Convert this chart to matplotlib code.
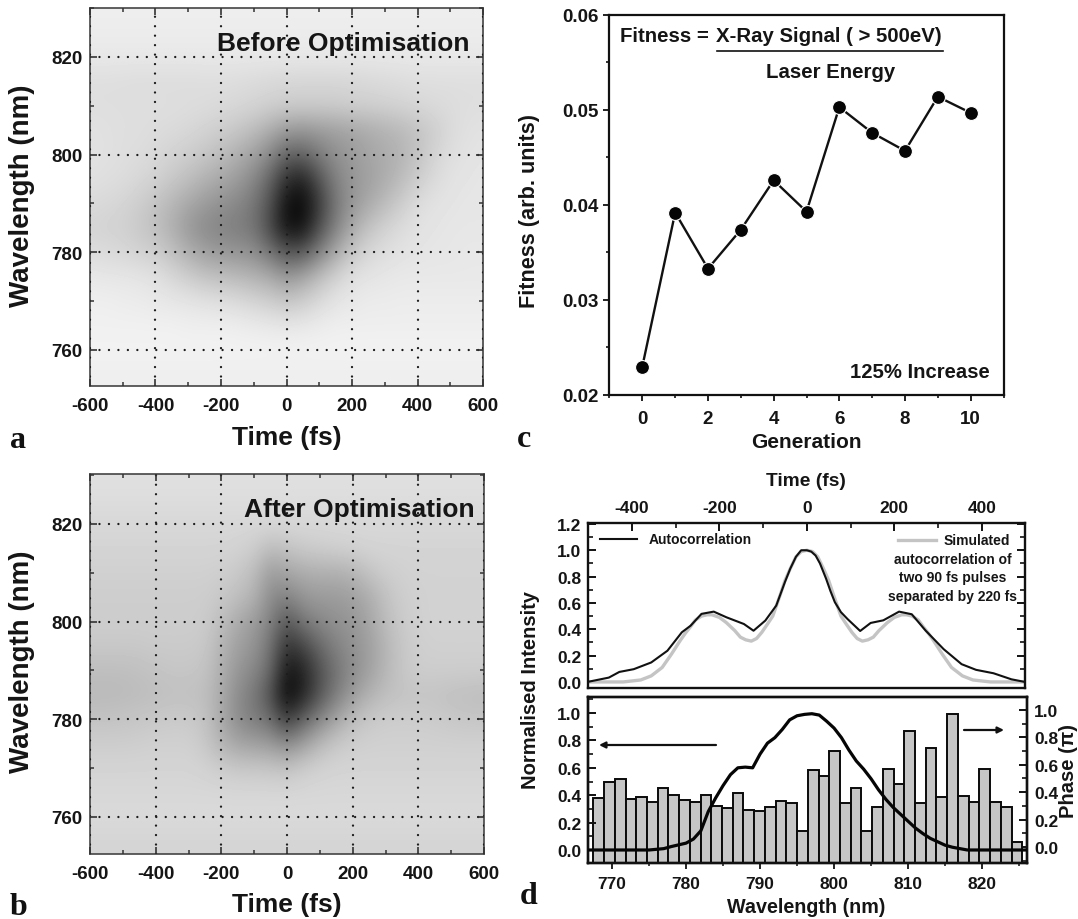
import numpy as np
import matplotlib
matplotlib.use("Agg")
import matplotlib.pyplot as plt
from matplotlib.lines import Line2D
from matplotlib.patches import FancyArrowPatch
from matplotlib.ticker import MultipleLocator, FixedLocator, FormatStrFormatter

plt.rcParams['font.family'] = ['Liberation Sans', 'DejaVu Sans']
plt.rcParams['font.weight'] = 'bold'
plt.rcParams['axes.unicode_minus'] = False

W, H = 1078, 920

# ---- panel a / b : grey levels, rows 830 ... 755 nm (5 nm), columns -600 ... 600 fs (50 fs)
before = [
 [238]*25,
 [236]*25,
 [232]*25,
 [222,222,221,220,220,220,220,221,221,220,218,216,214,213,213,213,214,216,218,220,222,222,222,222,222],
 [222,222,222,222,222,222,221,220,218,215,212,208,205,205,205,205,208,208,210,212,215,218,220,222,222],
 [225,224,222,222,220,218,215,210,205,198,188,172,155,150,155,160,165,172,178,185,195,205,218,224,226],
 [226,224,222,220,216,210,205,198,188,175,160,135,100,100,125,145,155,165,172,180,195,212,222,226,228],
 [224,222,220,215,210,200,190,178,168,155,135,100,45,35,85,130,150,160,172,188,205,218,226,228,230],
 [218,216,212,205,195,182,168,155,145,135,118,80,15,8,60,120,150,170,188,205,220,226,228,230,230],
 [212,210,208,200,190,175,152,138,130,125,115,72,15,18,80,130,170,195,210,220,226,228,230,230,230],
 [220,218,215,210,205,192,175,160,152,148,142,115,85,90,130,170,200,215,222,226,228,230,230,232,232],
 [232,230,230,228,225,215,205,195,190,185,178,170,150,165,190,210,224,228,230,232,232,232,232,232,232],
 [238,238,236,235,232,230,228,225,222,218,212,205,198,205,218,228,232,235,235,236,236,236,236,236,236],
 [240,240,240,240,240,240,238,238,238,236,234,232,230,232,235,238,238,238,238,238,238,238,238,238,238],
 [242]*25,
 [238]*25,
]
after = [
 [224]*25,
 [221]*25,
 [215]*25,
 [212,212,212,212,212,212,212,212,212,210,205,188,195,202,205,208,210,212,212,212,212,212,212,212,212],
 [208,208,208,208,208,208,208,208,206,200,188,155,165,172,175,175,180,195,205,208,210,210,210,210,210],
 [205,205,205,205,205,205,205,205,200,190,178,140,130,150,155,155,160,172,192,205,208,210,210,210,210],
 [205,205,205,205,205,205,205,203,190,170,155,130,85,120,135,145,150,165,188,202,208,210,210,210,210],
 [200,200,200,200,202,202,202,200,180,160,148,115,50,70,105,130,145,158,180,198,206,208,208,208,208],
 [190,190,190,192,195,198,198,195,175,150,135,105,20,35,80,115,140,160,182,198,205,205,205,205,205],
 [185,185,186,188,190,192,192,190,170,140,120,80,5,35,85,125,155,178,190,195,195,195,192,190,188],
 [195,195,196,198,200,202,202,195,170,140,125,110,60,100,135,165,190,200,205,205,205,203,200,198,198],
 [205,205,205,206,208,208,208,200,180,165,160,155,140,160,185,200,206,208,208,208,208,208,208,208,208],
 [212,212,212,212,212,212,212,210,205,200,200,198,195,205,210,212,212,212,212,212,212,212,212,212,212],
 [215]*25,
 [218]*25,
 [212]*25,
]

# ---- panel c
generation = [0, 1, 2, 3, 4, 5, 6, 7, 8, 9, 10]
fitness = [.0230, .0392, .0333, .0374, .0426, .0393, .0503, .0476, .0457, .0514, .0497]

# ---- panel d, top
ac_time = [-502,-453,-429,-396,-356,-319,-286,-266,-241,-213,-184,-144,-122,-95,-70,-60,-50,-38,-25,-13,0,10,20,30,44,54,64,78,93,122,146,175,211,240,272,313,354,387,427,468,499]
ac_val = [0,.033,.076,.097,.148,.237,.377,.427,.517,.534,.491,.44,.389,.466,.58,.67,.76,.86,.95,1.0,1.0,.99,.96,.90,.784,.69,.606,.53,.478,.387,.448,.468,.534,.514,.389,.249,.135,.092,.066,.02,0]
sim_time = [-500,-420,-380,-356,-331,-310,-290,-278,-266,-255,-241,-228,-217,-200,-184,-165,-152,-140,-127,-115,-103,-90,-78,-60,-50,-38,-25,-13,0,13,25,38,50,60,78,90,103,115,127,140,152,165,184,200,217,228,241,255,266,278,290,310,331,356,380,420,500]
sim_val = [0,0,.015,.046,.11,.21,.313,.37,.42,.47,.50,.51,.51,.49,.45,.39,.34,.32,.31,.33,.377,.44,.50,.67,.77,.86,.95,.99,1.0,.99,.95,.86,.77,.67,.50,.44,.377,.33,.31,.32,.34,.39,.45,.49,.51,.51,.50,.47,.42,.37,.313,.21,.11,.046,.015,0,0]

# ---- panel d, bottom
spec_wl = [767,775,777,778,780,781,782,783,784,785,786,787,788,789,790,791,792,793,794,795,796,797,798,799,800,801,802,803,804,805,806,807,808,809,810,811,812,813,814,815,816,817,818,826]
spec_val = [0,0,.01,.025,.05,.08,.14,.28,.38,.47,.55,.60,.605,.60,.70,.78,.82,.88,.95,.98,.99,.995,.985,.94,.89,.82,.73,.65,.59,.52,.44,.37,.31,.26,.21,.16,.12,.085,.06,.035,.02,.01,0,0]
phase_wl = np.linspace(768.2, 824.7, 40)
phase_val = [.356,.471,.495,.351,.363,.332,.434,.376,.344,.332,.376,.298,.283,.395,.273,.266,.290,.339,.322,.115,
             .559,.515,.702,.322,.434,.115,.290,.568,.463,.844,.322,.720,.363,.973,.371,.332,.571,.332,.293,.039]

TXT = '#151515'
fig = plt.figure(figsize=(W/100, H/100), dpi=100, facecolor='white')

def axpx(l, t, r, b):
    return fig.add_axes([l/W, 1-b/H, (r-l)/W, (b-t)/H])

def ftext(x, y, s, size, ha='center', va='center', rot=0, **kw):
    kw.setdefault('color', TXT)
    return fig.text(x/W, 1-y/H, s, fontsize=size, ha=ha, va=va, rotation=rot, **kw)

def fline(x0, y0, x1, y1, **kw):
    fig.add_artist(Line2D([x0/W, x1/W], [1-y0/H, 1-y1/H], transform=fig.transFigure, **kw))

def farrow(x0, y, x1, lw=1.6):
    fig.add_artist(FancyArrowPatch(
        (x0/W, 1-y/H), (x1/W, 1-y/H), transform=fig.transFigure,
        arrowstyle='-|>', mutation_scale=9, lw=lw, color='#111111', shrinkA=0, shrinkB=0))

def heat(rect, grid, ylim):
    ax = axpx(*rect)
    ax.imshow(np.array(grid, float), cmap='gray', vmin=0, vmax=255, aspect='auto',
              extent=(-625, 625, 752.5, 832.5), origin='upper', interpolation='bicubic')
    ax.set_xlim(-600, 600)
    ax.set_ylim(*ylim)
    ax.xaxis.set_major_locator(MultipleLocator(200))
    ax.xaxis.set_minor_locator(MultipleLocator(100))
    ax.yaxis.set_major_locator(MultipleLocator(20))
    ax.yaxis.set_minor_locator(MultipleLocator(10))
    ax.tick_params(which='both', direction='in', top=True, right=True, color='#333333')
    ax.tick_params(which='major', length=5, width=1.2, labelsize=13.5, labelcolor=TXT)
    ax.tick_params(which='minor', length=3, width=1.1)
    ax.tick_params(axis='x', which='major', pad=8)
    ax.tick_params(axis='y', which='major', pad=5.5)
    ax.grid(True, which='major', color='#1c1c1c', lw=1.7,
            linestyle=(0, (0.01, 4.0)), dash_capstyle='round')
    ax.set_axisbelow(False)
    for s in ax.spines.values():
        s.set_linewidth(1.2)
        s.set_color('#444444')
    return ax

# panel a
heat((90, 9, 483, 387), before, (752.6, 830))
ftext(343, 44, 'Before Optimisation', 19)
ftext(22, 196, 'Wavelength (nm)', 20, rot=90)
ftext(287, 438, 'Time (fs)', 19)
ftext(10, 448, 'a', 23, ha='left', va='baseline', family='Liberation Serif', color='#111111')

# panel b
heat((90, 475, 484, 855), after, (752.4, 830.2))
ftext(359, 510, 'After Optimisation', 19)
ftext(22, 662, 'Wavelength (nm)', 20, rot=90)
ftext(287, 905, 'Time (fs)', 19)
ftext(10, 915, 'b', 23, ha='left', va='baseline', family='Liberation Serif', color='#111111')

# panel c
axc = axpx(609.5, 16, 1003.5, 396)
axc.plot(generation, fitness, '-', color='#111111', lw=1.7, zorder=2)
axc.plot(generation, fitness, 'o', color='#050505', ms=10, mec='white', mew=0.8, zorder=3)
axc.set_xlim(-1, 11)
axc.set_ylim(0.02, 0.06)
axc.xaxis.set_major_locator(MultipleLocator(2))
axc.xaxis.set_minor_locator(MultipleLocator(1))
axc.yaxis.set_major_locator(MultipleLocator(0.01))
axc.yaxis.set_minor_locator(MultipleLocator(0.005))
axc.yaxis.set_major_formatter(FormatStrFormatter('%.2f'))
axc.tick_params(which='both', direction='out', color='#111111')
axc.tick_params(which='major', length=4.5, width=1.3, labelsize=13.5, labelcolor=TXT)
axc.tick_params(which='minor', length=2.5, width=1.2)
axc.tick_params(axis='x', which='major', pad=6)
axc.tick_params(axis='y', which='major', pad=3)
for s in axc.spines.values():
    s.set_linewidth(1.6)
    s.set_color('#111111')
ftext(620.5, 37, 'Fitness =', 14.7, ha='left')
ftext(716.5, 37, 'X-Ray Signal ( > 500eV)', 14.7, ha='left')
fline(716.5, 52, 943, 52, color='#111111', lw=1.2)
ftext(830.5, 72, 'Laser Energy', 14.7)
ftext(990, 372, '125% Increase', 14.6, ha='right')
ftext(530, 211, 'Fitness (arb. units)', 15.6, rot=90)
ftext(806, 443, 'Generation', 15)
ftext(517, 447, 'c', 23, ha='left', va='baseline', family='Liberation Serif', color='#111111')

# panel d top
axt = axpx(587.6, 524, 1025.4, 689)
axt.plot(sim_time, sim_val, color='#c4c4c4', lw=2.4, zorder=2)
axt.plot(ac_time, ac_val, color='#111111', lw=1.5, zorder=3)
axt.set_xlim(-501.6, 500)
axt.set_ylim(-0.046, 1.207)
axt.xaxis.set_major_locator(MultipleLocator(200))
axt.xaxis.set_minor_locator(MultipleLocator(100))
axt.yaxis.set_major_locator(MultipleLocator(0.2))
axt.yaxis.set_minor_locator(MultipleLocator(0.1))
axt.yaxis.set_major_formatter(FormatStrFormatter('%.1f'))
axt.tick_params(which='both', direction='in', top=True, right=True, bottom=False,
                labeltop=True, labelbottom=False, color='#111111')
axt.tick_params(which='major', length=6, width=1.4, labelsize=12.5, labelcolor=TXT)
axt.tick_params(which='minor', length=3.6, width=1.2)
axt.tick_params(axis='x', which='major', pad=6)
axt.tick_params(axis='y', which='major', pad=4.5)
for s in axt.spines.values():
    s.set_linewidth(1.7)
    s.set_color('#111111')
ftext(806, 481, 'Time (fs)', 13.8)
fline(600, 540, 637, 540, color='#111111', lw=1.5)
ftext(649, 540, 'Autocorrelation', 10, ha='left')
fline(898, 541, 936, 541, color='#c4c4c4', lw=2.4)
ftext(943.5, 541, 'Simulated', 10, ha='left')
ftext(953, 560, 'autocorrelation of', 10)
ftext(953, 578, 'two 90 fs pulses', 10)
ftext(953, 597, 'separated by 220 fs', 10)

# panel d bottom
axp = axpx(587.6, 698, 1026.5, 864)
axp.set_xlim(766.7, 826)
bar_floor = -0.117
axp.set_ylim(bar_floor, 1.095)
axp.bar(phase_wl, np.array(phase_val) - bar_floor, bottom=bar_floor, width=1.45,
        color='#c6c6c6', edgecolor='#0a0a0a', lw=1.4, zorder=2)
axp.yaxis.tick_right()
axp.yaxis.set_major_locator(FixedLocator([0, .2, .4, .6, .8, 1.0]))
axp.yaxis.set_minor_locator(FixedLocator([-.1, .1, .3, .5, .7, .9]))
axp.yaxis.set_major_formatter(FormatStrFormatter('%.1f'))
axp.xaxis.set_major_locator(MultipleLocator(10))
axp.xaxis.set_minor_locator(MultipleLocator(5))
axp.tick_params(axis='y', which='both', direction='in', color='#111111')
axp.tick_params(axis='y', which='major', length=6, width=1.4, labelsize=12.5, labelcolor=TXT, pad=5.5)
axp.tick_params(axis='y', which='minor', length=3.6, width=1.2)
axp.tick_params(axis='x', which='both', direction='out', color='#111111')
axp.tick_params(axis='x', which='major', length=4.5, width=1.3, labelsize=12.5, labelcolor=TXT, pad=5)
axp.tick_params(axis='x', which='minor', length=2.5, width=1.1)

axs = fig.add_axes(axp.get_position())
axs.patch.set_visible(False)
axs.plot(spec_wl, spec_val, color='#050505', lw=2.3, zorder=5)
axs.set_xlim(766.7, 826)
axs.set_ylim(-0.095, 1.117)
axs.xaxis.set_visible(False)
axs.yaxis.set_major_locator(MultipleLocator(0.2))
axs.yaxis.set_minor_locator(MultipleLocator(0.1))
axs.yaxis.set_major_formatter(FormatStrFormatter('%.1f'))
axs.tick_params(axis='y', which='both', direction='in', color='#111111')
axs.tick_params(axis='y', which='major', length=6, width=1.4, labelsize=12.5, labelcolor=TXT, pad=4.5)
axs.tick_params(axis='y', which='minor', length=3.6, width=1.2)
for ax in (axp, axs):
    for s in ax.spines.values():
        s.set_linewidth(1.7)
        s.set_color('#111111')

farrow(716, 746, 599)
farrow(964, 731, 1004)
ftext(530, 690, 'Normalised Intensity', 14.5, rot=90)
ftext(1069, 771, 'Phase (π)', 14.5, rot=90)
ftext(806.5, 908, 'Wavelength (nm)', 14.2)
ftext(520, 904, 'd', 23, ha='left', va='baseline', family='Liberation Serif', color='#111111')

fig.savefig('out.png', dpi=100, facecolor='white')
